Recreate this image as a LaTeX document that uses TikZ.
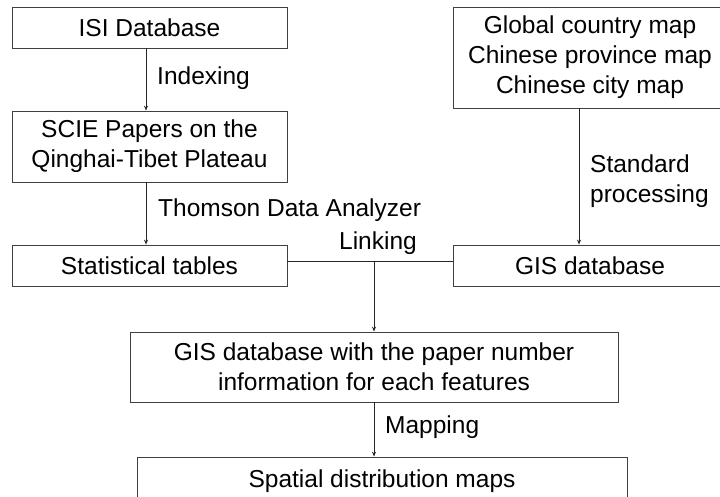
\documentclass[tikz,border=0pt]{standalone}
\usepackage{fontspec}
\setmainfont{Liberation Sans}
\usetikzlibrary{arrows.meta}
\tikzset{
  box/.style={draw=black!75, line width=0.8pt, inner sep=0pt, align=center,
    font=\fontsize{24.5}{30}\selectfont, text=black},
  lbl/.style={inner sep=0pt, font=\fontsize{24.5}{30}\selectfont, text=black},
  link/.style={draw=black!85, line width=0.8pt},
  arr/.style={link, -{Stealth[length=5pt,width=4pt]}}
}
\begin{document}
\begin{tikzpicture}[x={(1pt,0)}, y={(0,-1pt)}]
\useasboundingbox (0,0) rectangle (720,497);
\clip (0,0) rectangle (720,497);
\fill[white] (0,0) rectangle (720,497);

\node[box, minimum width=275pt, minimum height=41pt] (isi) at (149.5,27.5) {ISI Database};
\node[box, minimum width=275pt, minimum height=71pt] (scie) at (149.5,146.5) {SCIE Papers on the\\Qinghai-Tibet Plateau};
\node[box, minimum width=275pt, minimum height=41pt] (stat) at (149.5,265.5) {Statistical tables};
\node[box, minimum width=274pt, minimum height=101pt] (maps) at (590,57.5) {Global country map\\Chinese province map\\Chinese city map};
\node[box, minimum width=274pt, minimum height=41pt] (gis) at (590,265.5) {GIS database};
\node[box, minimum width=488pt, minimum height=70pt] (gisp) at (374,367) {GIS database with the paper number\\information for each features};
\node[box, minimum width=490pt, minimum height=48pt] (spat) at (382,481) {Spatial distribution maps};

\draw[arr] ([xshift=-3.5pt]isi.south) -- ([xshift=-3.5pt]scie.north);
\draw[arr] ([xshift=-3.5pt]scie.south) -- ([xshift=-3.5pt]stat.north);
\draw[arr] ([xshift=-11pt]maps.south) -- ([xshift=-11pt]gis.north);
\draw[link] ([yshift=4.5pt]stat.east) -- ([yshift=4.5pt]gis.west);
\coordinate (lk) at (374,261);
\draw[arr] (lk) -- (gisp.north);
\draw[arr] (gisp.south) -- ([xshift=-8pt]spat.north);

\node[lbl, anchor=west] (idx) at (157,78) {Indexing};
\node[lbl, anchor=west] (tda) at (158,210) {Thomson Data Analyzer};
\node[lbl] (lnk) at (378,243) {Linking};
\node[lbl, anchor=west, align=left] (std) at (590,181) {Standard\\processing};
\node[lbl, anchor=west] (mpg) at (385,427) {Mapping};
\end{tikzpicture}
\end{document}
